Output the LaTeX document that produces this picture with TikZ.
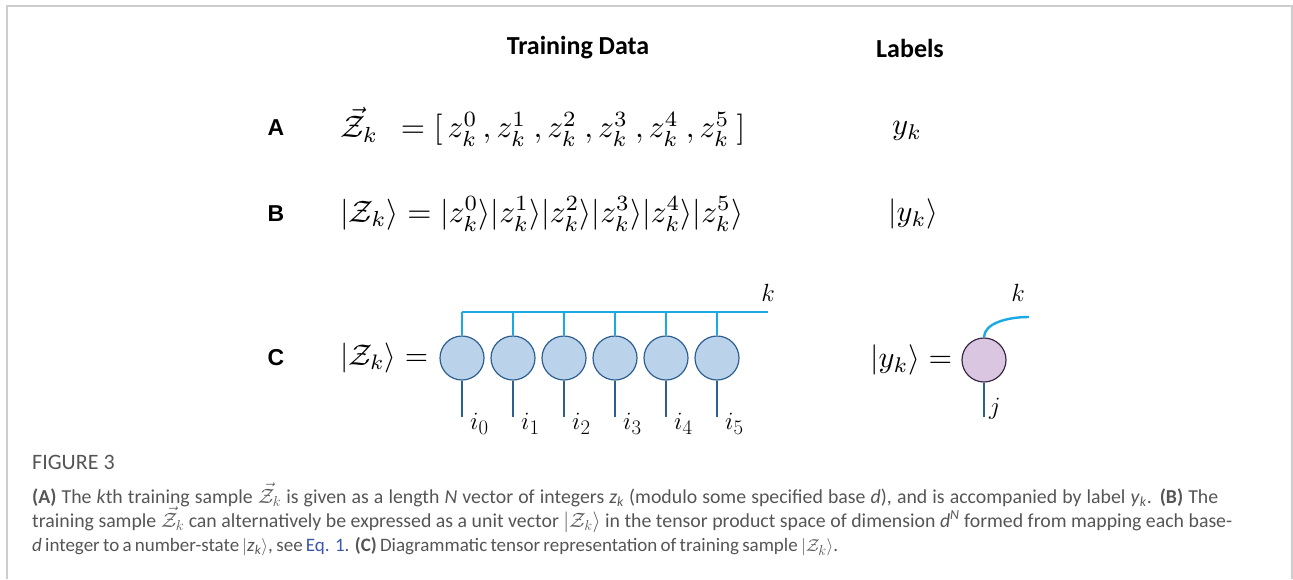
\documentclass[tikz,border=0pt]{standalone}
\usepackage{fontspec}
\usepackage{amsmath}
\setmainfont{Carlito}
\newfontfamily\arialfont{Liberation Sans}
\usetikzlibrary{calc}
\definecolor{framegray}{RGB}{205,205,205}
\definecolor{kcyan}{RGB}{25,170,228}
\definecolor{legblue}{RGB}{46,95,145}
\definecolor{cfill}{RGB}{186,210,234}
\definecolor{lavfill}{RGB}{218,198,224}
\definecolor{lavedge}{RGB}{55,40,70}
\definecolor{capgray}{RGB}{85,85,85}
\definecolor{linkblue}{RGB}{60,85,175}
\newcommand{\itsub}[2]{\textit{#1}\textsubscript{\textit{#2}}}
\tikzset{
  hdr/.style={font=\fontsize{26}{30}\selectfont\bfseries, inner sep=0pt},
  panel/.style={font=\arialfont\fontsize{23}{26}\selectfont\bfseries, inner sep=0pt},
  eq/.style={inner sep=0pt, anchor=west},
  site/.style={circle, draw=legblue, fill=cfill, line width=1.2pt, minimum size=44pt, inner sep=0pt},
  lsite/.style={circle, draw=lavedge, fill=lavfill, line width=1.2pt, minimum size=44pt, inner sep=0pt},
  bond/.style={kcyan, line width=2.4pt},
  leg/.style={legblue, line width=2.4pt},
  idx/.style={inner sep=0pt, anchor=west, font=\fontsize{31}{34}\selectfont},
  capline/.style={inner sep=0pt, anchor=base west, text=capgray, font=\fontsize{19.8}{24}\selectfont},
}
\begin{document}
\begin{tikzpicture}[x=1pt,y=-1pt]
\useasboundingbox (0,0) rectangle (1293,579);
\draw[framegray, line width=1.6pt] (7,579) -- (7,6) -- (1292,6) -- (1292,579);

\node[hdr] (td) at (578,48) {Training Data};
\node[hdr] (lb) at (910,48) {Labels};

\node[panel] (pA) at (276,128) {A};
\node[panel] (pB) at (276,214) {B};
\node[panel] (pC) at (276,358) {C};

\node[eq] (eqA) at (340,127) {\resizebox{405pt}{!}{$\vec{\mathcal{Z}}_k\ \ = [\,z_k^0\,,z_k^1\ ,z_k^2\ ,z_k^3\ ,z_k^4\ ,z_k^5\ ]$}};
\node[eq] (labA) at (892,131) {\resizebox{30pt}{!}{$y_k$}};

\node[eq] (eqB) at (340,214) {\resizebox{403pt}{!}{$|\mathcal{Z}_k\rangle = |z_k^0\rangle|z_k^1\rangle|z_k^2\rangle|z_k^3\rangle|z_k^4\rangle|z_k^5\rangle$}};
\node[eq] (labB) at (888,214) {\resizebox{50pt}{!}{$|y_k\rangle$}};

\node[eq] (eqC) at (340,358) {\resizebox{88pt}{!}{$|\mathcal{Z}_k\rangle =$}};

\coordinate (kend) at (768,312);
\coordinate (legend) at (0,417);
\foreach \i in {0,...,5} {
  \node[site] (c\i) at ({462+51*\i},358) {};
  \draw[bond] (c\i.north) -- (c\i.north |- kend);
  \draw[leg] (c\i.south) -- (c\i.south |- legend);
  \node[idx] (i\i) at ({462+51*\i+8},424) {$i_{\i}$};
}
\draw[bond] (c0.north |- kend) -- (kend);
\node[inner sep=0pt, font=\fontsize{31}{34}\selectfont] (kl) at (768,293) {$k$};

\node[eq] (eqD) at (870,360) {\resizebox{82pt}{!}{$|y_k\rangle =$}};
\node[lsite] (ys) at (984,360) {};
\coordinate (k2) at (1029,317);
\draw[bond] (ys.north) .. controls +(0,-14) and +(-22,0) .. (k2);
\draw[leg] (ys.south) -- (ys.south |- legend);
\node[inner sep=0pt, font=\fontsize{31}{34}\selectfont] (kr) at (1018,293) {$k$};
\node[idx] (jl) at (989,409) {$j$};

\node[inner sep=0pt, anchor=base west, text=capgray, font=\fontsize{22}{26}\selectfont] (fig) at (32,469) {FIGURE 3};
\node[capline] (l1) at (32,503) {\makebox[1186pt][s]{\textbf{(A)} The \textit{k}th training sample $\vec{\mathcal{Z}}_k$ is given as a length \textit{N} vector of integers \itsub{z}{k} (modulo some specified base \textit{d}), and is accompanied by label \itsub{y}{k}. \textbf{(B)} The}};
\node[capline] (l2) at (32,527) {\makebox[1200pt][s]{training sample $\vec{\mathcal{Z}}_k$ can alternatively be expressed as a unit vector $|\mathcal{Z}_k\rangle$ in the tensor product space of dimension \textit{d}\textsuperscript{\textit{N}} formed from mapping each base-}};
\node[capline, font=\fontsize{19}{24}\selectfont] (l3) at (32,551) {\makebox[806pt][s]{\textit{d} integer to a number-state $|$\itsub{z}{k}$\rangle$, see \textcolor{linkblue}{Eq. 1}. \textbf{(C)} Diagrammatic tensor representation of training sample $|\mathcal{Z}_k\rangle$.}};
\end{tikzpicture}
\end{document}
